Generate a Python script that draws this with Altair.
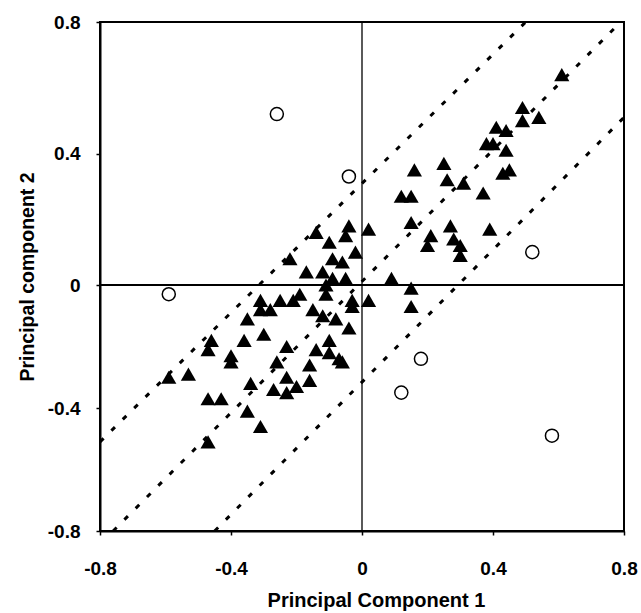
import altair as alt
import pandas as pd

# ---- data ----
tri_x = [0.61, 0.49, 0.49, 0.54, 0.41, 0.44, 0.38, 0.40, 0.44, 0.43,
         0.45, 0.25, 0.16, 0.26, 0.31, 0.37, 0.12, 0.15, 0.15, 0.27,
         0.39, 0.21, 0.28, 0.20, 0.30, 0.30, 0.02, 0.09, 0.15, 0.02,
         0.15, -0.04, -0.14, -0.05, -0.10, -0.02, -0.22, -0.09, -0.06, -0.17,
         -0.12, -0.09, -0.05, -0.11, -0.11, -0.19, -0.21, -0.25, -0.31, -0.31,
         -0.28, -0.15, -0.12, -0.08, -0.04, -0.03, -0.03, -0.35, -0.36, -0.30,
         -0.23, -0.46, -0.47, -0.40, -0.40, -0.53, -0.59, -0.26, -0.23, -0.20,
         -0.23, -0.34, -0.27, -0.16, -0.14, -0.10, -0.10, -0.07, -0.06, -0.16,
         -0.47, -0.43, -0.35, -0.31, -0.47]
tri_y = [0.64, 0.54, 0.50, 0.51, 0.48, 0.47, 0.43, 0.43, 0.41, 0.34,
         0.35, 0.37, 0.35, 0.32, 0.31, 0.28, 0.27, 0.27, 0.19, 0.18,
         0.17, 0.15, 0.14, 0.12, 0.12, 0.09, 0.17, 0.02, -0.01, -0.05,
         -0.07, 0.18, 0.16, 0.15, 0.13, 0.10, 0.08, 0.08, 0.07, 0.04,
         0.04, 0.02, 0.02, 0.00, -0.03, -0.03, -0.05, -0.05, -0.05, -0.08,
         -0.08, -0.08, -0.10, -0.11, -0.14, -0.05, -0.07, -0.11, -0.18, -0.16,
         -0.20, -0.18, -0.21, -0.23, -0.25, -0.29, -0.30, -0.25, -0.30, -0.33,
         -0.35, -0.32, -0.34, -0.31, -0.21, -0.18, -0.22, -0.24, -0.25, -0.26,
         -0.37, -0.37, -0.41, -0.46, -0.51]

circ_x = [-0.26, -0.04, -0.59, 0.52, 0.18, 0.12, 0.58]
circ_y = [0.52, 0.33, -0.03, 0.10, -0.24, -0.35, -0.49]

line_names = ["upper", "middle", "lower"]
line_x0 = [-0.80, -0.76, -0.45]
line_y0 = [-0.51, -0.80, -0.80]
line_x1 = [0.50, 0.79, 0.80]
line_y1 = [0.80, 0.80, 0.51]

x_ticks = [-0.8, -0.4, 0, 0.4, 0.8]
y_ticks = [-0.8, -0.4, 0, 0.4, 0.8]
x_title = "Principal Component 1"
y_title = "Principal component 2"

# ---- tables ----
tri = pd.DataFrame({"x": tri_x, "y": tri_y})
circ = pd.DataFrame({"x": circ_x, "y": circ_y})
rows = []
for n, a, b, c, d in zip(line_names, line_x0, line_y0, line_x1, line_y1):
    rows.append({"line": n, "o": 0, "x": a, "y": b})
    rows.append({"line": n, "o": 1, "x": c, "y": d})
lines = pd.DataFrame(rows)
zero = pd.DataFrame({"v": [0]})

FONT = "Liberation Sans"
W, H = 524, 509

label_expr = "datum.value == 0 ? '0' : (datum.value < 0 ? '-' : '') + format(abs(datum.value), '.1f')"

xscale = alt.Scale(domain=[-0.8, 0.8], nice=False, zero=False)
yscale = alt.Scale(domain=[-0.8, 0, 0.8], range=[H, 263, 0], nice=False, zero=False)

xaxis = alt.Axis(values=x_ticks, labelExpr=label_expr, title=x_title, grid=False,
                 domainColor="black", domainWidth=2, tickColor="black", tickWidth=1.5,
                 tickSize=4, labelFont=FONT, labelFontWeight="bold", labelFontSize=19,
                 labelColor="black", labelPadding=24, labelFlush=False,
                 titleFont=FONT, titleFontWeight="bold", titleFontSize=20,
                 titleColor="black", titlePadding=12, titleX=276)
yaxis = alt.Axis(values=y_ticks, labelExpr=label_expr, title=y_title, grid=False,
                 domainColor="black", domainWidth=2, tickColor="black", tickWidth=1.5,
                 tickSize=4, labelFont=FONT, labelFontWeight="bold", labelFontSize=19,
                 labelColor="black", labelPadding=16, labelFlush=False,
                 titleFont=FONT, titleFontWeight="bold", titleFontSize=19.5,
                 titleColor="black", titlePadding=10)

X = lambda: alt.X("x:Q", scale=xscale, axis=xaxis)
Y = lambda: alt.Y("y:Q", scale=yscale, axis=yaxis)

hrule = alt.Chart(zero).mark_rule(color="black", strokeWidth=2).encode(
    y=alt.Y("v:Q", scale=yscale, axis=yaxis))
vrule = alt.Chart(zero).mark_rule(color="black", strokeWidth=1.3).encode(
    x=alt.X("v:Q", scale=xscale, axis=xaxis))

dotted = alt.Chart(lines).mark_line(color="black", strokeWidth=3, strokeDash=[5, 11],
                                    clip=True).encode(
    x=X(), y=Y(), detail="line:N", order="o:Q")

tris = alt.Chart(tri).mark_point(shape="triangle-up", filled=True, color="black",
                                 size=230, opacity=1).encode(x=X(), y=Y())
circs = alt.Chart(circ).mark_point(shape="circle", filled=False, color="black",
                                   fill="white", fillOpacity=1, strokeWidth=1.5,
                                   size=170, opacity=1).encode(x=X(), y=Y())

chart = alt.layer(hrule, vrule, dotted, tris, circs).properties(
    width=W, height=H,
    autosize=alt.AutoSizeParams(type="none"),
    padding={"left": 100, "top": 22, "right": 17, "bottom": 82},
    background="white",
).configure_view(stroke="black", strokeWidth=2)

chart.save("out.html", embed_options={"renderer": "svg", "actions": False})
